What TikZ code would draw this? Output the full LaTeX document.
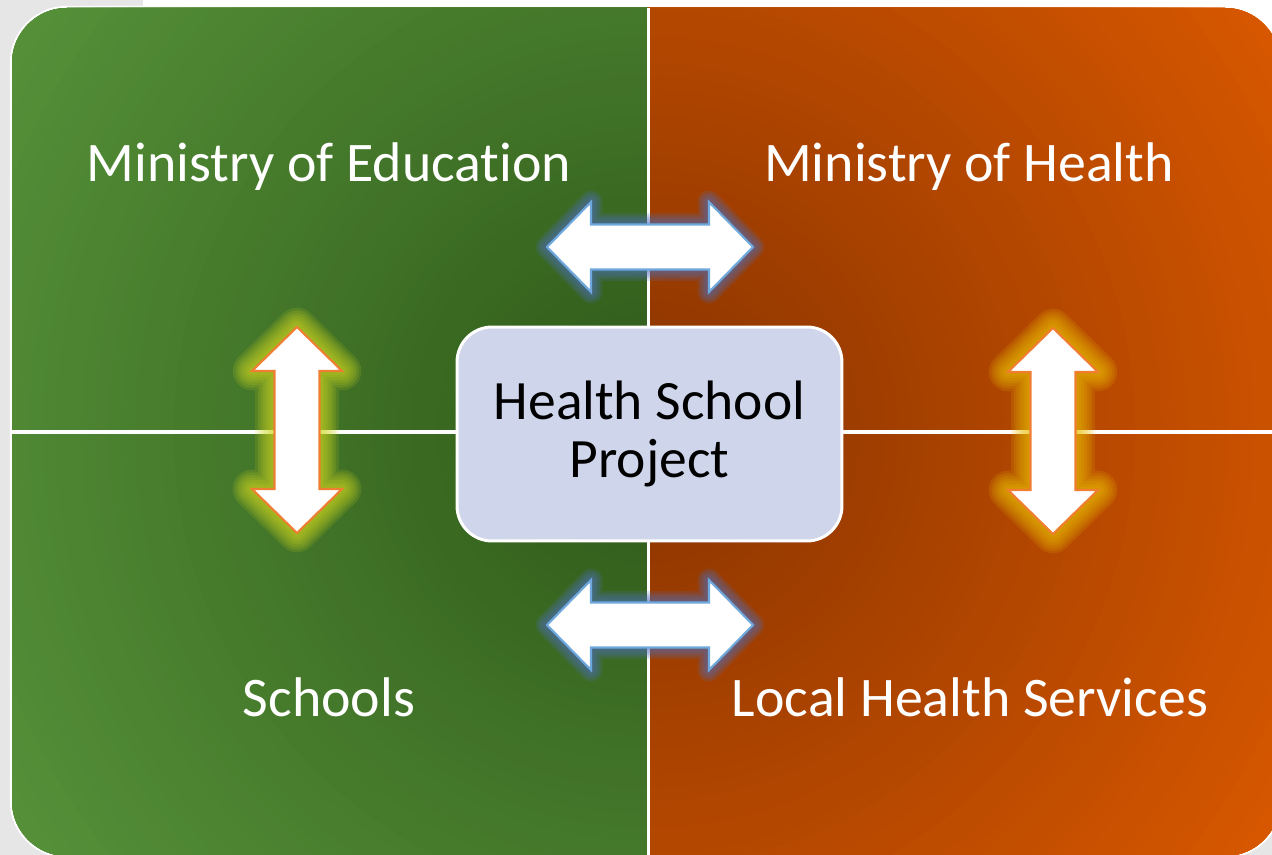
\documentclass[tikz,border=0pt]{standalone}
\usepackage{fontspec}
\setmainfont{Carlito}[Ligatures={NoCommon}]
\definecolor{bggray}{HTML}{E6E6E6}
\definecolor{gdark}{HTML}{2E5818}
\definecolor{glight}{HTML}{57933A}
\definecolor{odark}{HTML}{873300}
\definecolor{olight}{HTML}{DB5900}
\definecolor{boxfill}{HTML}{CFD5EA}
\definecolor{bluegl}{HTML}{4F6FC0}
\definecolor{blueln}{HTML}{6FA8DC}
\definecolor{yelgl}{HTML}{D0D820}
\definecolor{goldgl}{HTML}{EBBE00}
\definecolor{orln}{HTML}{F07E32}
\tikzset{
  darrow/.pic={\path[pic actions] (-103,0) -- (-59,-45) -- (-59,-22.5) -- (59,-22.5) -- (59,-45) -- (103,0) -- (59,45) -- (59,22.5) -- (-59,22.5) -- (-59,45) -- cycle;},
  lbl/.style={text=white, font=\fontsize{31.8pt}{33.5pt}\selectfont, inner sep=0pt, anchor=base},
  centerbox/.style={rounded corners=0.7cm, fill=boxfill, draw=white, line width=1.7pt,
    minimum width=7.7cm, minimum height=4.28cm, align=center, inner sep=0pt,
    font=\fontsize{31.6pt}{33.5pt}\selectfont, text=black},
  divider/.style={white, line width=2.2pt}
}
\newcommand\glowarrow[5]{% name, position, rotation, glow colour, line colour
  \foreach \w in {22,19,16,13,10,7,4}{%
    \pic[rotate=#3, draw=#4, line width=\w pt, draw opacity=0.15, line join=round] at #2 {darrow};}
  \pic[rotate=#3, fill=white, draw=#5, line width=1.2pt, line join=miter] (#1) at #2 {darrow};
}
\newcommand\blueglowarrow[2]{% name, position
  \foreach \w in {13,10.5,8,5.5,3}{%
    \pic[draw=bluegl, line width=\w pt, draw opacity=0.17, line join=round] at #2 {darrow};}
  \pic[fill=white, draw=blueln, line width=1.2pt, line join=miter] (#1) at #2 {darrow};
}
\newcommand\radialfill[2]{% dark colour, light colour
  \foreach \i in {0,...,60}{%
    \pgfmathsetmacro\rr{15.8*(1-\i/60)}%
    \pgfmathtruncatemacro\pp{100*\i/60}%
    \fill[#1!\pp!#2] (648,432) circle (\rr cm);}
}
\begin{document}
\begin{tikzpicture}[x=0.02cm, y=-0.02cm]
\useasboundingbox (0,0) rectangle (1272,855);
% page background
\fill[bggray] (0,0) rectangle (1272,855);
\fill[white] (143,0) rectangle (1272,12);
\fill[white] (1180,0) rectangle (1272,80);
% outer white ring
\draw[white, line width=2.5pt, rounded corners=1.1cm] (12,8) rectangle (1280,856);
% quadrant fills
\begin{scope}
  \clip[rounded corners=1.1cm] (12,8) rectangle (1280,856);
  \begin{scope}
    \clip (0,0) rectangle (648,900);
    \fill[glight] (0,0) rectangle (648,900);
    \radialfill{gdark}{glight}
  \end{scope}
  \begin{scope}
    \clip (648,0) rectangle (1300,900);
    \fill[olight] (648,0) rectangle (1300,900);
    \radialfill{odark}{olight}
  \end{scope}
\end{scope}
% dividers
\coordinate (ltop) at (648.5,8);
\coordinate (lbot) at (648.5,856);
\coordinate (lleft) at (12,432);
\coordinate (lright) at (1280,432);
\draw[divider] (ltop) -- (lbot);
\draw[divider] (lleft) -- (lright);
% arrows
\blueglowarrow{topar}{(650,247)}
\blueglowarrow{botar}{(650,625)}
\glowarrow{leftar}{(297,430)}{90}{yelgl}{orln}
\glowarrow{rightar}{(1053,431)}{90}{goldgl}{orln}
% centre box
\node[centerbox] (hsp) at (649.5,434) {Health School\\Project};
% labels
\node[lbl] (moe) at (329,182) {Ministry of Education};
\node[lbl] (moh) at (969,182) {Ministry of Health};
\node[lbl] (sch) at (329,716) {Schools};
\node[lbl] (lhs) at (970,716) {Local Health Services};
\end{tikzpicture}
\end{document}
